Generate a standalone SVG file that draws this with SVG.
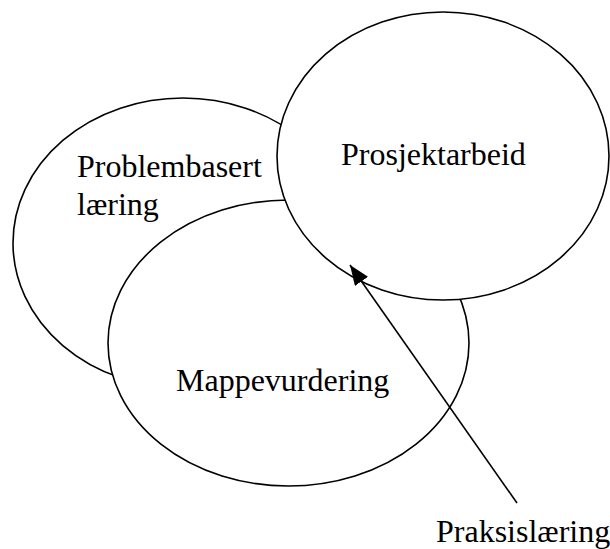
<svg xmlns="http://www.w3.org/2000/svg" width="610" height="549" viewBox="0 0 610 549">
<style>
.node{fill:#fff;stroke:#000;stroke-width:1.6}
.lbl{font-family:"Liberation Serif","Times New Roman",serif;font-size:32px;fill:#000}
.conn{stroke:#000;stroke-width:1.6;fill:none}
</style>
<defs>
<marker id="ah" viewBox="0 0 20 16" refX="20" refY="8" markerWidth="20" markerHeight="16" markerUnits="userSpaceOnUse" orient="auto">
<path d="M0,0 L20,8 L0,16 Z" fill="#000"/>
</marker>
</defs>
<g id="problembasert">
<ellipse class="node" cx="183" cy="243" rx="170" ry="145"/>
<text class="lbl" x="77" y="177">Problembasert</text>
<text class="lbl" x="77" y="215">læring</text>
</g>
<g id="mappevurdering">
<ellipse class="node" cx="288.5" cy="343" rx="180.5" ry="143"/>
<text class="lbl" x="176" y="391">Mappevurdering</text>
</g>
<g id="prosjektarbeid">
<ellipse class="node" cx="443" cy="156" rx="166" ry="144"/>
<text class="lbl" x="341" y="165">Prosjektarbeid</text>
</g>
<g id="praksislaering">
<text class="lbl" x="436" y="542">Praksislæring</text>
</g>
<g id="connectors">
<line class="conn" x1="517" y1="503" x2="350" y2="265" marker-end="url(#ah)"/>
</g>
</svg>
